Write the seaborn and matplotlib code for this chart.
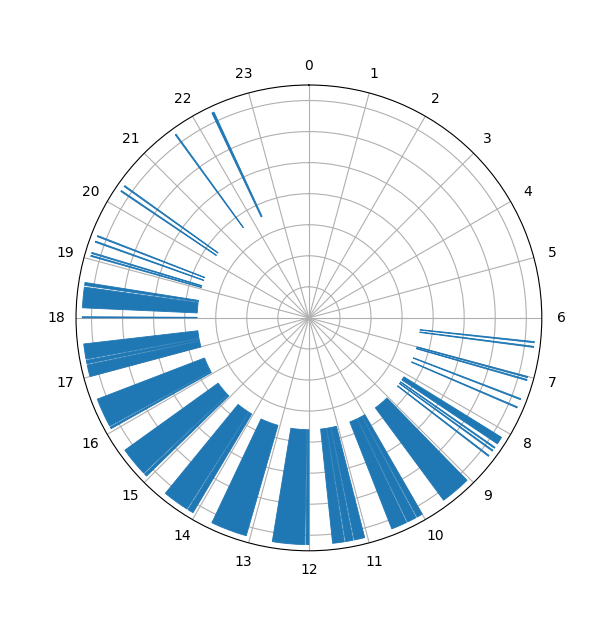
import numpy as np
import matplotlib
matplotlib.use('Agg')
import matplotlib.pyplot as plt
import seaborn as sns

# inicio e fim de cada faixa (em horas do dia)
inicio = [6.40, 6.48, 7.00, 7.05, 7.39, 7.54, 8.12, 8.32, 8.38, 8.49,
          9.05, 10.00, 10.12, 10.30, 11.05, 11.25, 11.40, 12.00, 12.07,
          13.07, 14.05, 14.17, 15.05, 15.12, 16.05, 16.10, 17.00, 17.22,
          17.30, 18.00, 18.17, 18.55, 19.05, 19.10, 19.30, 19.40, 20.26,
          20.36, 21.59, 22.31]
fim = [6.42, 6.50, 7.02, 7.07, 7.41, 7.56, 8.25, 8.34, 8.40, 8.51,
       9.57, 10.10, 10.28, 10.57, 11.23, 11.38, 11.60, 12.05, 12.62,
       13.69, 14.15, 14.62, 15.10, 15.62, 16.08, 16.60, 17.20, 17.28,
       17.56, 18.02, 18.52, 18.60, 19.07, 19.12, 19.32, 19.42, 20.28,
       20.38, 21.61, 22.35]
horas = list(range(24))

base = 3.6
altura = 3.7
cor = sns.color_palette()[0]

ini = np.array(inicio) * 2 * np.pi / 24
larg = (np.array(fim) - np.array(inicio)) * 2 * np.pi / 24

fig = plt.figure(figsize=(6.01, 6.30), dpi=100)
ax = fig.add_axes([0.1265, 0.1254, 0.775, 0.74], projection='polar')
ax.bar(ini, altura, width=larg, bottom=base, align='edge',
       color=cor, edgecolor=cor, linewidth=0.6)

ax.set_theta_zero_location('N')
ax.set_theta_direction(-1)
ax.set_xticks(np.array(horas) * 2 * np.pi / 24)
ax.set_xticklabels([str(h) for h in horas])
ax.set_ylim(0, 7.5)
ax.set_yticks(range(1, 8))
ax.set_yticklabels([])
ax.grid(True, color='#b0b0b0', linewidth=0.8)
ax.set_axisbelow(True)

fig.savefig('out.png', dpi=100)
